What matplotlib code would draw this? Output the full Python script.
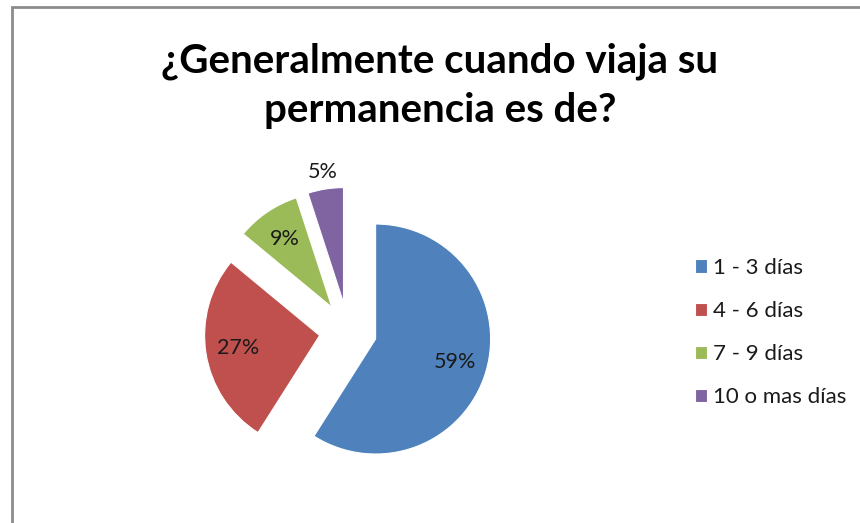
import matplotlib
matplotlib.use("Agg")
import matplotlib.pyplot as plt
from matplotlib.patches import Rectangle
import numpy as np

title = "¿Generalmente cuando viaja su\npermanencia es de?"
categories = ["1 - 3 días", "4 - 6 días", "7 - 9 días", "10 o mas días"]
values = [59, 27, 9, 5]
colors = ["#4F81BD", "#C0504D", "#9BBB59", "#8064A2"]

W, H = 860, 523
fig = plt.figure(figsize=(W / 100, H / 100), dpi=100)
fig.patch.set_facecolor("white")

# chart border (left & top visible)
fig.patches.append(Rectangle((12 / W, -0.05), 1.2, (H - 7) / H + 0.05,
                             transform=fig.transFigure, fill=False,
                             edgecolor="#8C8C8C", linewidth=2))

ax = fig.add_axes([0, 0, 1, 1])
cx, cy, r = 348, H - 331, 115
wedges, texts, autotexts = ax.pie(
    values, colors=colors, startangle=90, counterclock=False,
    explode=[0.25 * r] * 4, radius=r, center=(cx, cy),
    autopct=lambda p: f"{p:.0f}%", pctdistance=0.72,
    wedgeprops=dict(linewidth=0.8, edgecolor="white"),
    textprops=dict(fontsize=15.5, family="Lato", color="#1a1a1a"))

# small slice label outside (best fit)
w = wedges[3]
ang = np.deg2rad((w.theta1 + w.theta2) / 2)
wx, wy = w.center
autotexts[3].set_position((wx + 1.15 * r * np.cos(ang), wy + 1.15 * r * np.sin(ang)))

ax.set_xlim(0, W)
ax.set_ylim(0, H)
ax.set_aspect("equal")
ax.axis("off")

fig.text(440 / W, 1 - 42 / H, title, ha="center", va="top", fontsize=29,
         fontweight="bold", family="Lato", linespacing=1.42, color="black")

leg = ax.legend(wedges, categories, loc="upper left",
                bbox_to_anchor=(695 / W, 1 - 258 / H), frameon=False,
                prop=dict(family="Lato", size=16), labelspacing=1.04,
                handlelength=0.55, handleheight=0.55, handletextpad=0.25,
                borderaxespad=0, borderpad=0)
for t in leg.get_texts():
    t.set_color("#1a1a1a")

fig.savefig("out.png", dpi=100, facecolor="white")
